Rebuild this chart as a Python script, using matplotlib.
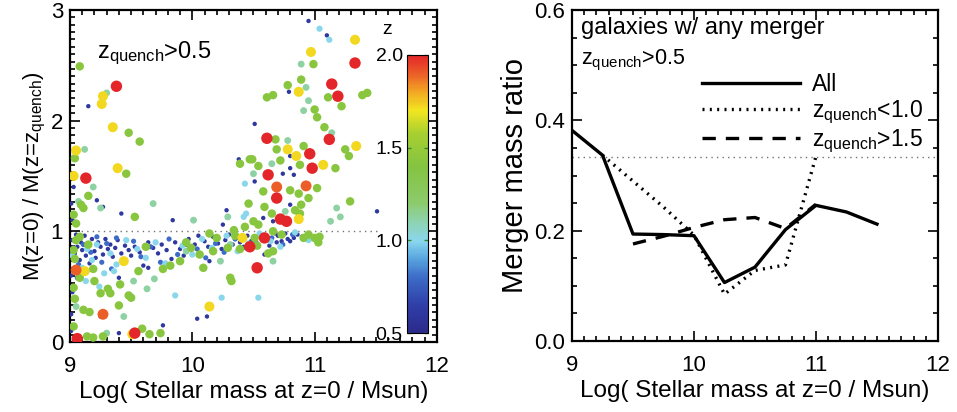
import matplotlib
matplotlib.use('Agg')
import matplotlib.pyplot as plt
from matplotlib.colors import LinearSegmentedColormap, Normalize
from matplotlib.cm import ScalarMappable
from matplotlib.ticker import MultipleLocator

plt.rcParams['font.family'] = ['Liberation Sans', 'DejaVu Sans']
plt.rcParams['mathtext.default'] = 'regular'

# ---- left panel: galaxies, grouped by quenching redshift ----
red_m = [9.38, 9.13, 11.33, 11.14, 11.19, 10.61, 11.12, 10.96, 10.98, 10.62, 10.69, 10.72, 10.77, 10.59, 10.47, 10.53, 9.53, 9.06]
red_r = [2.31, 1.48, 2.52, 2.33, 2.22, 1.84, 1.83, 1.70, 1.57, 1.51, 1.30, 1.11, 1.09, 0.94, 0.86, 0.67, 0.08, 0.03]

orange_m = [10.69, 10.93, 9.05, 9.27]
orange_r = [1.40, 1.41, 0.65, 0.25]

yellow_m = [9.27, 9.26, 9.35, 9.39, 9.05, 9.03, 11.33, 10.97, 10.87, 10.78, 10.85, 11.34, 11.07, 10.87, 10.41, 9.44, 9.12, 10.14, 9.51]
yellow_r = [2.22, 2.15, 1.94, 1.57, 1.73, 1.50, 2.73, 2.62, 2.26, 1.74, 1.68, 1.77, 1.60, 1.11, 0.94, 0.73, 0.64, 0.32, 0.07]

green_m = [9.08, 9.48, 9.57, 9.04, 9.46, 9.15, 9.11, 9.09, 9.53, 9.03, 9.05,
           10.39, 10.47, 10.99, 10.89, 10.78, 11.11, 10.66, 10.61, 11.43, 11.39,
           11.22, 11.00, 11.02, 11.08, 10.68, 10.69, 10.91, 11.25, 11.28, 10.49,
           10.54, 10.72, 10.88, 11.17, 11.02, 10.80, 10.87, 10.58, 10.95, 10.89,
           11.29, 10.46, 10.59, 10.88, 10.84, 10.65, 10.54, 10.50, 11.00, 11.04,
           11.03, 10.91, 10.95, 10.73, 10.51, 10.53, 10.66, 10.39, 10.62, 10.66,
           10.43, 10.20, 10.14, 9.99, 10.34, 10.35, 10.17, 10.31, 10.32, 10.09,
           9.74, 9.65, 9.59, 9.14, 9.19, 9.27, 9.40, 9.16, 9.11, 9.31,
           9.33, 9.48, 9.50, 9.56, 9.76, 9.82, 9.90, 9.19, 9.08, 9.03,
           9.04, 9.03, 9.41, 9.03, 9.05, 9.08, 9.15, 9.04, 9.20, 9.25, 10.06, 10.29, 9.95, 9.62]
green_r = [2.49, 1.89, 1.81, 1.66, 1.52, 1.32, 1.21, 1.24, 1.13, 1.15, 1.07,
           1.61, 1.65, 2.51, 2.37, 2.32, 2.21, 2.23, 2.21, 2.25, 2.23,
           2.13, 2.10, 2.03, 1.94, 1.83, 1.74, 1.77, 1.74, 1.68, 1.65,
           1.59, 1.64, 1.60, 1.57, 1.39, 1.37, 1.34, 1.36, 1.30, 1.24,
           1.27, 1.25, 1.22, 1.16, 1.19, 1.16, 1.06, 1.09, 0.94, 0.95,
           0.90, 0.94, 0.97, 0.97, 0.94, 0.87, 0.82, 0.84, 0.80, 1.00,
           1.04, 0.94, 0.98, 0.85, 1.01, 0.96, 0.82, 0.58, 0.55, 0.67,
           0.08, 0.07, 0.12, 0.05, 0.04, 0.05, 0.33, 0.27, 0.29, 0.48,
           0.44, 0.42, 0.40, 0.64, 0.66, 0.69, 0.73, 0.66, 0.58, 0.49,
           0.39, 0.14, 0.52, 0.83, 0.92, 0.95, 0.88, 0.75, 0.55, 0.44, 0.79, 0.85, 0.90, 0.86]

teal_m = [9.30, 10.89, 10.93, 10.95, 10.91, 11.14, 10.78, 10.65, 10.50, 11.18, 11.21, 11.13, 10.76, 10.66, 9.12,
          9.19, 9.07, 9.25, 9.68, 10.01, 10.29, 10.31, 10.23, 9.63, 9.52, 9.69, 9.95, 9.05, 9.44, 9.30]
teal_r = [2.25, 2.51, 2.30, 2.18, 2.09, 1.89, 1.82, 1.61, 1.52, 1.21, 1.13, 1.09, 1.18, 0.73, 1.74,
          1.40, 1.27, 1.21, 1.25, 1.10, 1.13, 0.88, 0.73, 0.48, 0.55, 0.57, 0.82, 0.32, 0.23, 0.08]

cyan_m = [11.04, 11.12, 10.43, 10.42, 10.44, 10.54, 10.24, 9.86, 10.95,
          9.02, 9.06, 9.10, 9.14, 9.18, 9.22, 9.28, 9.33, 9.38, 9.46, 9.55, 9.62, 9.70, 9.78,
          9.92, 10.00, 10.08, 10.16, 10.28, 10.37, 10.46, 10.55, 10.64, 10.72, 10.84, 9.13, 9.24, 9.36]
cyan_r = [2.83, 2.73, 1.43, 1.13, 1.16, 0.40, 0.40, 0.42, 0.92,
          0.78, 0.93, 0.67, 0.84, 0.74, 0.88, 0.62, 0.80, 0.70, 0.92, 0.84, 0.76, 0.90, 0.71,
          0.87, 0.79, 0.93, 0.85, 0.96, 0.82, 0.89, 0.98, 0.91, 0.86, 0.99, 0.55, 0.50, 0.64]

blue_m = [9.03, 9.07, 9.11, 9.14, 9.17, 9.22, 9.26, 9.30, 9.34, 9.38, 9.44, 9.52, 9.58, 9.66, 9.74,
          9.81, 9.88, 9.95, 10.04, 10.11, 10.19, 10.26, 10.35, 10.44, 10.52, 10.65, 10.74, 10.82, 10.90, 9.06]
blue_r = [0.85, 0.70, 0.88, 0.64, 0.81, 0.95, 0.72, 0.89, 0.66, 0.94, 0.74, 0.91, 0.77, 0.86, 0.72,
          0.93, 0.79, 0.88, 0.84, 0.76, 0.89, 0.81, 0.93, 0.85, 0.90, 0.94, 0.88, 0.97, 0.95, 0.58]

navy_m = [10.95, 11.10, 10.79, 10.51, 10.80, 10.80, 10.74, 10.83, 10.38, 10.51, 10.80, 11.51, 10.58, 10.66, 9.15,
          9.03, 9.22, 9.27, 9.42, 9.84, 10.05, 10.28, 10.25, 10.14, 10.12, 10.04, 9.76, 9.40, 9.40, 9.64,
          9.25, 10.80, 10.83, 10.73, 10.69, 10.76, 10.68, 10.63, 10.59, 9.01, 9.01, 9.02, 9.01, 9.02, 9.01,
          9.02, 9.04, 9.05, 9.06, 9.08, 9.09, 9.10, 9.12, 9.13, 9.15, 9.16, 9.18, 9.20, 9.21, 9.23,
          9.25, 9.27, 9.29, 9.31, 9.33, 9.35, 9.37, 9.39, 9.42, 9.45, 9.48, 9.50, 9.53, 9.57, 9.60,
          9.64, 9.68, 9.72, 9.75, 9.79, 9.83, 9.86, 9.90, 9.93, 9.97, 10.02, 10.06, 10.10, 10.13, 10.17,
          10.21, 10.24, 10.27, 10.30, 10.33, 10.36, 10.39, 10.42, 10.45, 10.48, 10.56, 10.61, 10.70, 10.78, 10.86]
navy_r = [2.90, 2.77, 2.26, 1.97, 1.68, 1.57, 1.52, 1.51, 1.65, 1.45, 1.24, 1.18, 1.12, 1.09, 2.13,
          1.40, 1.28, 1.22, 1.16, 1.10, 0.96, 1.19, 1.06, 0.73, 0.23, 0.21, 0.15, 0.08, 0.58, 0.67,
          0.23, 0.91, 0.94, 0.91, 0.90, 0.98, 0.98, 0.87, 0.79, 0.10, 0.25, 0.45, 0.60, 1.10, 1.25,
          0.92, 0.80, 0.97, 0.86, 0.74, 0.90, 0.83, 0.96, 0.78, 0.88, 0.71, 0.93, 0.82, 0.76, 0.90,
          0.86, 0.79, 0.93, 0.84, 0.88, 0.77, 0.85, 0.92, 0.80, 0.87, 0.83, 0.78, 0.86, 0.81, 0.69,
          0.90, 0.85, 0.80, 0.88, 0.83, 0.75, 0.90, 0.84, 0.78, 0.93, 0.88, 0.80, 0.91, 0.86, 0.95,
          0.89, 0.84, 0.92, 0.97, 0.88, 0.94, 0.90, 0.86, 0.96, 0.91, 0.95, 0.92, 0.96, 0.93, 0.97]

# quench redshift of each group
group_z = [0.6, 0.8, 1.0, 1.12, 1.42, 1.72, 1.9, 2.0]
groups_m = [navy_m, blue_m, cyan_m, teal_m, green_m, yellow_m, orange_m, red_m]
groups_r = [navy_r, blue_r, cyan_r, teal_r, green_r, yellow_r, orange_r, red_r]

# ---- right panel: median merger mass ratio ----
mass_bins = [9.0, 9.25, 9.5, 9.75, 10.0, 10.25, 10.5, 10.75, 11.0, 11.25, 11.5]
ratio_all = [0.382, 0.337, 0.194, 0.193, 0.191, 0.106, 0.134, 0.202, 0.246, 0.234, 0.212]
mass_lowz = [9.25, 9.5, 9.75, 10.0, 10.25, 10.5, 10.75, 11.0]
ratio_lowz = [0.337, 0.290, 0.243, 0.192, 0.085, 0.128, 0.138, 0.335]
mass_highz = [9.5, 9.75, 10.0, 10.25, 10.5, 10.75, 11.0]
ratio_highz = [0.176, 0.190, 0.206, 0.220, 0.224, 0.204, 0.248]

cmap = LinearSegmentedColormap.from_list('idl_z', [
    (0.00, '#2b2a8a'), (0.10, '#2f3fa8'), (0.20, '#3d6cc8'), (0.27, '#5aa8e0'),
    (0.33, '#8ad6ee'), (0.40, '#8ed3b0'), (0.47, '#8ccb6a'), (0.60, '#84c441'),
    (0.72, '#a8d030'), (0.80, '#f2e620'), (0.87, '#f2a623'), (0.93, '#ec6128'),
    (1.00, '#e3262a')])
norm = Normalize(0.5, 2.0)


def style_axes(ax, xminor, yminor):
    ax.xaxis.set_major_locator(MultipleLocator(1))
    ax.xaxis.set_minor_locator(MultipleLocator(xminor))
    ax.yaxis.set_minor_locator(MultipleLocator(yminor))
    ax.tick_params(which='both', direction='in', top=True, right=True, width=1.2)
    ax.tick_params(which='major', length=7, labelsize=16)
    ax.tick_params(which='minor', length=3.5)
    ax.tick_params(axis='x', pad=10)
    ax.tick_params(axis='y', pad=5)
    for sp in ax.spines.values():
        sp.set_linewidth(1.6)


fig = plt.figure(figsize=(9.57, 4.12), dpi=100)

ax1 = fig.add_axes([0.0731, 0.170, 0.3835, 0.806])
for m, r, z in zip(groups_m, groups_r, group_z):
    size = 10 + 36 * max(z - 0.6, 0) ** 1.4
    ax1.scatter(m, r, s=size, color=cmap(norm(z)), edgecolors='none', zorder=2 + z)
ax1.axhline(1.0, xmax=0.84, color='0.45', ls=(0, (1, 3)), lw=1, zorder=1)
ax1.set_xlim(9, 12)
ax1.set_ylim(0, 3)
ax1.yaxis.set_major_locator(MultipleLocator(1))
style_axes(ax1, 0.1, 1 / 15)
ax1.set_xlabel('Log( Stellar mass at z=0 / Msun)', fontsize=17.5, labelpad=3)
ax1.set_ylabel('M(z=0) / M(z=z$_{quench}$)', fontsize=16, labelpad=2)
ax1.text(0.075, 0.855, 'z$_{quench}$>0.5', transform=ax1.transAxes, fontsize=17)

cax = fig.add_axes([0.4253, 0.1917, 0.0219, 0.675])
cb = fig.colorbar(ScalarMappable(norm=norm, cmap=cmap), cax=cax)
cb.set_ticks([0.5, 1.0, 1.5, 2.0])
cb.ax.set_yticklabels(['0.5', '1.0', '1.5', '2.0'])
cax.yaxis.set_ticks_position('both')
cax.tick_params(direction='in', length=3, width=1, color='#338833', labelsize=14,
                labelleft=True, labelright=False, pad=3)
cb.outline.set_linewidth(0.8)
cax.text(-0.95, 1.06, 'z', transform=cax.transAxes, fontsize=14, ha='center', va='bottom')

ax2 = fig.add_axes([0.5977, 0.1723, 0.3824, 0.803])
ax2.plot(mass_bins, ratio_all, color='k', lw=2.4, label='All')
ax2.plot(mass_lowz, ratio_lowz, color='k', lw=2.4, ls=(0, (0.6, 1.6)), label='z$_{quench}$<1.0')
ax2.plot(mass_highz, ratio_highz, color='k', lw=2.4, ls=(0, (4, 3)), label='z$_{quench}$>1.5')
ax2.axhline(1 / 3, color='0.45', ls=(0, (1, 3)), lw=1)
ax2.set_xlim(9, 12)
ax2.set_ylim(0, 0.6)
ax2.yaxis.set_major_locator(MultipleLocator(0.2))
ax2.yaxis.set_major_formatter(plt.FormatStrFormatter('%.1f'))
style_axes(ax2, 0.1, 0.05)
ax2.set_xlabel('Log( Stellar mass at z=0 / Msun)', fontsize=17.5, labelpad=3)
ax2.set_ylabel('Merger mass ratio', fontsize=21, labelpad=4)
ax2.text(0.025, 0.98, 'galaxies w/ any merger', transform=ax2.transAxes, fontsize=17, va='top')
ax2.text(0.025, 0.885, 'z$_{quench}$>0.5', transform=ax2.transAxes, fontsize=15.5, va='top')
ax2.legend(loc='upper left', bbox_to_anchor=(0.355, 0.81), frameon=False, fontsize=16.5,
           handlelength=4.3, handletextpad=0.5, labelspacing=0.1, borderpad=0, borderaxespad=0)

fig.savefig('out.png', dpi=100)
